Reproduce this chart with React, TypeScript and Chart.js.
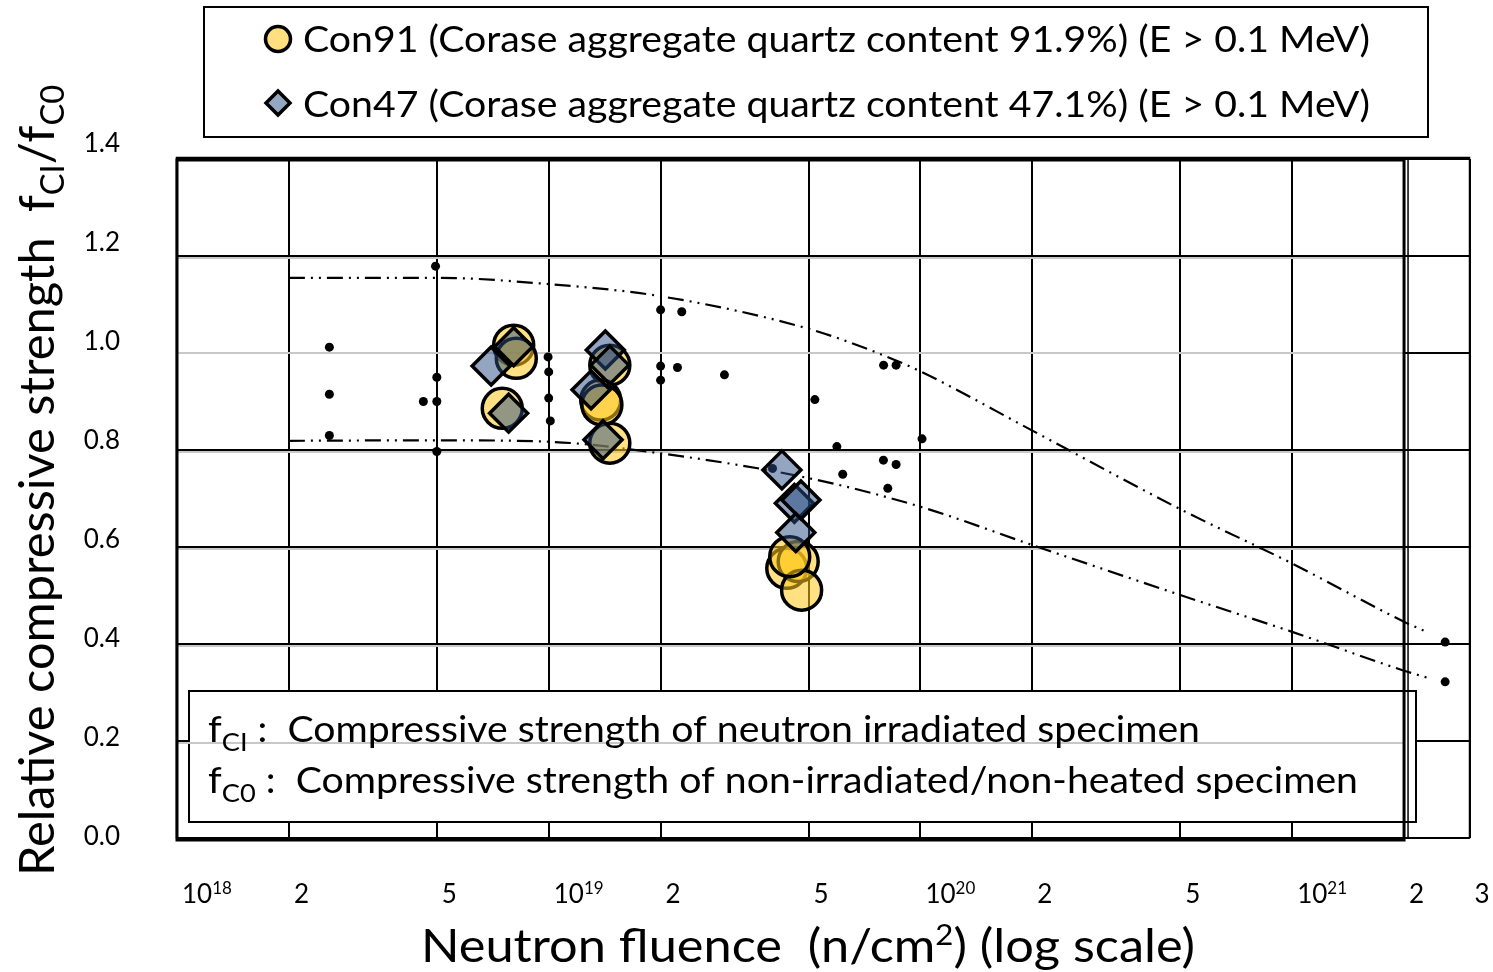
import React, { useEffect, useRef } from 'react';
import { Chart, registerables } from 'chart.js';

Chart.register(...registerables);

const FONT = 'Lato, "Noto Sans", sans-serif';

// ---- axis ticks ----
const xTickValues = [1e18, 2e18, 5e18, 1e19, 2e19, 5e19, 1e20, 2e20, 5e20, 1e21, 2e21, 3e21];
const xTickLabels = ['10^18', '2', '5', '10^19', '2', '5', '10^20', '2', '5', '10^21', '2', '3'];
const yTickValues = [0, 0.2, 0.4, 0.6, 0.8, 1.0, 1.2, 1.4];
const yMin = 0;
const yMax = 1.4;

// ---- Con91 (yellow circles) ----
const con91X = [8.05e18, 8.18e18, 7.5e18, 1.46e19, 1.38e19, 1.39e19, 1.46e19, 4.37e19, 4.69e19, 4.79e19, 4.45e19];
const con91Y = [1.016, 0.989, 0.886, 0.975, 0.903, 0.893, 0.814, 0.556, 0.57, 0.511, 0.58];

// ---- Con47 (blue diamonds) ----
const con47X = [8.05e18, 7.0e18, 7.8e18, 1.42e19, 1.46e19, 1.3e19, 1.4e19, 4.24e19, 4.58e19, 4.77e19, 4.62e19];
const con47Y = [1.013, 0.973, 0.876, 1.006, 0.975, 0.924, 0.821, 0.759, 0.69, 0.697, 0.63];

// ---- other literature data (small black dots) ----
const otherX = [2.57e18, 2.57e18, 2.57e18, 4.96e18, 5.0e18, 4.6e18, 5.0e18, 5.0e18, 9.96e18, 1.0e19, 1.0e19, 1.01e19,
  2.0e19, 2.28e19, 2.0e19, 2.22e19, 2.0e19, 2.97e19, 5.2e19, 5.96e19, 7.95e19, 8.6e19, 6.18e19, 8.17e19, 1.01e20,
  4.0e19, 7.96e19, 8.6e19, 2.58e21, 2.58e21];
const otherY = [1.012, 0.915, 0.83, 1.179, 0.95, 0.9, 0.9, 0.797, 0.992, 0.961, 0.907, 0.86,
  1.089, 1.085, 0.973, 0.97, 0.944, 0.955, 0.904, 0.807, 0.779, 0.77, 0.75, 0.721, 0.823,
  0.762, 0.975, 0.975, 0.404, 0.322];

// ---- bounding curves (dash-dot-dot) ----
const upperX = [2e18, 5e18, 1e19, 2e19, 5e19, 7.5e19, 1e20, 2e20, 5e20, 1e21, 2e21, 2.3e21];
const upperY = [1.155, 1.155, 1.142, 1.117, 1.05, 1.003, 0.962, 0.84, 0.678, 0.566, 0.446, 0.425];
const lowerX = [2e18, 5e18, 1e19, 2e19, 5e19, 1e20, 2e20, 5e20, 1e21, 2e21, 2.3e21];
const lowerY = [0.819, 0.82, 0.817, 0.793, 0.742, 0.683, 0.604, 0.501, 0.425, 0.345, 0.331];

const legendLabels = [
  'Con91 (Corase aggregate quartz content 91.9%) (E > 0.1 MeV)',
  'Con47 (Corase aggregate quartz content 47.1%) (E > 0.1 MeV)',
];

type Part = { t: string; size: number; dy?: number };

function drawRich(ctx: CanvasRenderingContext2D, parts: Part[], x: number, y: number, target?: number, align: 'left' | 'right' = 'left') {
  let w = 0;
  const ws: number[] = [];
  for (const p of parts) {
    ctx.font = `${p.size}px ${FONT}`;
    const m = ctx.measureText(p.t).width;
    ws.push(m);
    w += m;
  }
  const sx = target ? target / w : 1;
  ctx.save();
  ctx.translate(align === 'right' ? x - w * sx : x, y);
  ctx.scale(sx, 1);
  ctx.textAlign = 'left';
  ctx.textBaseline = 'alphabetic';
  ctx.fillStyle = '#000';
  let cx = 0;
  parts.forEach((p, i) => {
    ctx.font = `${p.size}px ${FONT}`;
    ctx.fillText(p.t, cx, p.dy || 0);
    cx += ws[i];
  });
  ctx.restore();
}

function hline(ctx: CanvasRenderingContext2D, x1: number, x2: number, y: number) {
  ctx.beginPath();
  ctx.moveTo(x1, y);
  ctx.lineTo(x2, y);
  ctx.stroke();
}
function vline(ctx: CanvasRenderingContext2D, x: number, y1: number, y2: number) {
  ctx.beginPath();
  ctx.moveTo(x, y1);
  ctx.lineTo(x, y2);
  ctx.stroke();
}

const decor = {
  id: 'decor',
  beforeDatasetsDraw(chart: any) {
    const { ctx, chartArea: a, scales } = chart;
    const xs = scales.x;
    const ys = scales.y;
    const x2 = xs.getPixelForValue(2e21);
    ctx.save();
    ctx.lineWidth = 2;
    ctx.strokeStyle = '#c8c8c8';
    for (const v of [0.4, 0.6, 0.8, 1.2]) {
      const py = Math.round(ys.getPixelForValue(v)) + 2;
      hline(ctx, a.left, x2, py);
    }
    ctx.strokeStyle = '#000';
    const p1 = ys.getPixelForValue(1);
    hline(ctx, x2, a.right, p1);
    ctx.restore();
  },
  afterDraw(chart: any) {
    const { ctx, chartArea: a, scales } = chart;
    const xs = scales.x;
    const ys = scales.y;
    const x2 = xs.getPixelForValue(2e21);
    ctx.save();

    // annotation box
    ctx.fillStyle = '#fff';
    ctx.fillRect(189, 691, 1227, 131);
    ctx.strokeStyle = '#000';
    ctx.lineWidth = 2;
    ctx.strokeRect(189, 691, 1227, 131);
    // grey 0.2 line over the box
    ctx.strokeStyle = '#c8c8c8';
    ctx.lineWidth = 2;
    hline(ctx, a.left, x2, Math.round(ys.getPixelForValue(0.2)) + 2);

    drawRich(ctx, [
      { t: 'f', size: 36 },
      { t: 'CI', size: 25, dy: 9 },
      { t: ' :  Compressive strength of neutron irradiated specimen', size: 36 },
    ], 208, 742, 992);
    drawRich(ctx, [
      { t: 'f', size: 36 },
      { t: 'C0', size: 25, dy: 9 },
      { t: ' :  Compressive strength of non-irradiated/non-heated specimen', size: 36 },
    ], 208, 793, 1150);

    // frames
    ctx.strokeStyle = '#000';
    ctx.lineWidth = 1.5;
    ctx.strokeRect(a.left - 0.5, a.top - 1.5, a.right - a.left + 0.5, a.bottom - a.top + 1.5);
    vline(ctx, x2 + 4, a.top - 1.5, a.bottom);
    ctx.lineWidth = 3;
    ctx.strokeRect(a.left, a.top + 1, x2 - a.left, a.bottom + 2 - a.top - 1);

    // y tick labels (slightly raised above their grid lines, as in the original)
    yTickValues.forEach((v) => {
      const py = ys.getPixelForValue(v) - (2 + 14 * v / yMax) + 9;
      drawRich(ctx, [{ t: v.toFixed(1), size: 26 }], 120, py, undefined, 'right');
    });

    // x tick labels
    xTickValues.forEach((v, i) => {
      const lab = xTickLabels[i];
      const px = xs.getPixelForValue(v) + 5;
      if (lab.startsWith('10^')) {
        drawRich(ctx, [{ t: '10', size: 26 }, { t: lab.slice(3), size: 17, dy: -9 }], px, 903);
      } else {
        drawRich(ctx, [{ t: lab, size: 26 }], px, 903);
      }
    });

    // x title
    drawRich(ctx, [
      { t: 'Neutron fluence  (n/cm', size: 47 },
      { t: '2', size: 29, dy: -17 },
      { t: ') (log scale)', size: 47 },
    ], 421, 962, 774);

    // y title
    ctx.save();
    ctx.translate(54, 876);
    ctx.rotate(-Math.PI / 2);
    drawRich(ctx, [
      { t: 'Relative compressive strength  f', size: 48 },
      { t: 'CI', size: 32, dy: 10 },
      { t: '/f', size: 48 },
      { t: 'C0', size: 32, dy: 10 },
    ], 0, 0, 791);
    ctx.restore();

    // legend
    ctx.strokeStyle = '#000';
    ctx.lineWidth = 2;
    ctx.strokeRect(204, 7, 1224, 130);
    ctx.beginPath();
    ctx.arc(278, 39, 12.5, 0, Math.PI * 2);
    ctx.fillStyle = '#FFDF80';
    ctx.fill();
    ctx.lineWidth = 3.5;
    ctx.stroke();
    ctx.beginPath();
    ctx.moveTo(278, 103 - 12);
    ctx.lineTo(278 + 12, 103);
    ctx.lineTo(278, 103 + 12);
    ctx.lineTo(278 - 12, 103);
    ctx.closePath();
    ctx.fillStyle = '#93A6C2';
    ctx.fill();
    ctx.lineWidth = 3.5;
    ctx.lineJoin = 'miter';
    ctx.stroke();
    drawRich(ctx, [{ t: legendLabels[0], size: 37 }], 303, 52, 1067);
    drawRich(ctx, [{ t: legendLabels[1], size: 37 }], 303, 117, 1067);

    ctx.restore();
  },
};

function pts(xa: number[], ya: number[]) {
  return xa.map((x, i) => ({ x, y: ya[i] }));
}

export default function App() {
  const ref = useRef<HTMLCanvasElement | null>(null);

  useEffect(() => {
    if (!ref.current) return;
    let chart: Chart | null = null;
    let cancelled = false;
    const make = () => {
      if (cancelled || !ref.current) return;
      chart = new Chart(ref.current, {
        type: 'scatter',
        data: {
          datasets: [
            {
              label: 'Con47',
              data: pts(con47X, con47Y),
              pointStyle: 'rectRot',
              pointRadius: 19,
              pointBackgroundColor: 'rgba(40,75,130,0.5)',
              pointBorderColor: '#000',
              pointBorderWidth: 3.5,
              showLine: false,
              order: 0,
            } as any,
            {
              label: 'Con91',
              data: pts(con91X, con91Y),
              pointStyle: 'circle',
              pointRadius: 20,
              pointBackgroundColor: 'rgba(255,200,30,0.55)',
              pointBorderColor: '#000',
              pointBorderWidth: 3.5,
              showLine: false,
              order: 1,
            },
            {
              label: 'upper',
              data: pts(upperX, upperY),
              showLine: true,
              borderColor: '#000',
              borderWidth: 2.2,
              borderDash: [16, 6, 2, 6, 2, 6],
              pointRadius: 0,
              cubicInterpolationMode: 'monotone',
              fill: false,
              order: 2,
            },
            {
              label: 'lower',
              data: pts(lowerX, lowerY),
              showLine: true,
              borderColor: '#000',
              borderWidth: 2.2,
              borderDash: [16, 6, 2, 6, 2, 6],
              pointRadius: 0,
              cubicInterpolationMode: 'monotone',
              fill: false,
              order: 2,
            },
            {
              label: 'other',
              data: pts(otherX, otherY),
              pointStyle: 'circle',
              pointRadius: 4.5,
              pointBackgroundColor: '#000',
              pointBorderWidth: 0,
              showLine: false,
              order: 3,
            },
          ],
        },
        options: {
          animation: false,
          responsive: false,
          events: [],
          layout: { padding: { top: 159, right: 23, bottom: 0, left: 0 } },
          plugins: { legend: { display: false }, tooltip: { enabled: false }, title: { display: false } },
          scales: {
            x: {
              type: 'logarithmic',
              min: 1e18,
              max: 3e21,
              afterBuildTicks: (s: any) => {
                s.ticks = xTickValues.map((v) => ({ value: v }));
              },
              afterFit: (s: any) => {
                s.height = 134;
              },
              ticks: { display: false },
              grid: { color: '#000', lineWidth: 2, drawTicks: false },
              border: { display: false },
            },
            y: {
              type: 'linear',
              min: yMin,
              max: yMax,
              afterBuildTicks: (s: any) => {
                s.ticks = yTickValues.map((v) => ({ value: v }));
              },
              afterFit: (s: any) => {
                s.width = 177;
              },
              ticks: { display: false },
              grid: {
                color: (c: any) => (c.tick && Math.abs(c.tick.value - 1) < 1e-6 ? '#c8c8c8' : '#000'),
                lineWidth: 2,
                drawTicks: false,
              },
              border: { display: false },
            },
          },
        },
        plugins: [decor],
      } as any);
    };
    const fontsReady = (document as any).fonts && (document as any).fonts.load
      ? Promise.all([(document as any).fonts.load(`25px Lato`)]).catch(() => null)
      : Promise.resolve(null);
    fontsReady.then(make);
    return () => {
      cancelled = true;
      if (chart) chart.destroy();
    };
  }, []);

  return (
    <div style={{ position: 'absolute', left: 0, top: 0, width: 1493, height: 972, background: '#fff' }}>
      <canvas ref={ref} width={1493} height={972} style={{ display: 'block', width: 1493, height: 972 }} />
    </div>
  );
}
